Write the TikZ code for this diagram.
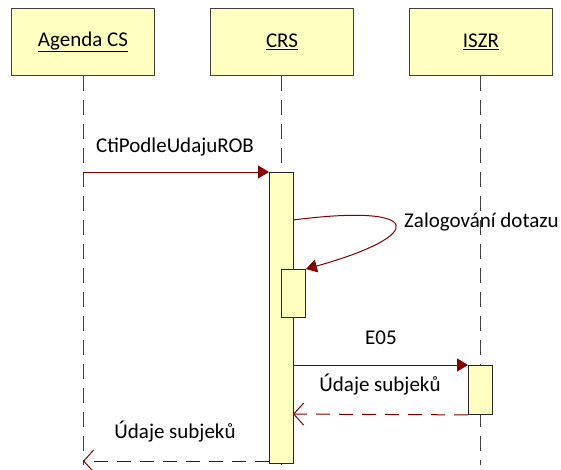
\documentclass[tikz,border=0pt]{standalone}
\usepackage{fontspec}
\setmainfont{Carlito}
\usetikzlibrary{arrows.meta}
\definecolor{boxfill}{HTML}{FFFFC0}
\definecolor{msgred}{HTML}{800000}
\definecolor{edgegray}{HTML}{404040}
\tikzset{
  x=1pt,y=-1pt,
  every node/.style={font=\fontsize{21}{25}\selectfont, inner sep=0pt, text=black},
  objbox/.style={draw=edgegray, fill=boxfill, line width=1pt, minimum width=143pt, minimum height=67pt},
  actbar/.style={draw=black!85, fill=boxfill, line width=0.9pt},
  lifeline/.style={draw=black!75, line width=1pt, dash pattern=on 15pt off 9pt},
  callmsg/.style={draw=msgred, line width=1pt, -{Triangle[length=11pt,width=13pt]}},
  retmsg/.style={draw=msgred, line width=1pt, dash pattern=on 14pt off 9pt, -{Straight Barb[length=10pt,width=22pt]}},
  lbl/.style={anchor=base}
}
\begin{document}
\begin{tikzpicture}
\useasboundingbox (0,0) rectangle (561,469);
% object boxes
\node[objbox] (agenda) at (83,42) {\underline{Agenda CS}};
\node[objbox] (crs) at (282,42) {\underline{CRS}};
\node[objbox] (iszr) at (481,42) {\underline{ISZR}};
% lifeline ends
\coordinate (agendaEnd) at (83,465);
\coordinate (crsEnd) at (281,465);
\coordinate (iszrEnd) at (480,465);
\draw[lifeline] (83,76) -- (agendaEnd);
\draw[lifeline] (281,76) -- (crsEnd);
\draw[lifeline] (480,76) -- (iszrEnd);
% activation bars
\node[actbar, minimum width=24pt, minimum height=291pt, anchor=north west] (crsAct) at (269,172) {};
\node[actbar, minimum width=24pt, minimum height=48pt, anchor=north west] (selfAct) at (281,269) {};
\node[actbar, minimum width=24pt, minimum height=49pt, anchor=north west] (iszrAct) at (468,365) {};
% messages
\coordinate (m1start) at (83,172);
\draw[callmsg] (m1start) -- (crsAct.north west);
\node[lbl] (l1) at (175,152) {CtiPodleUdajuROB};

\coordinate (selfStart) at (293,220);
\draw[callmsg] (selfStart) .. controls (425,203) and (428,235) .. (selfAct.north east);
\node[anchor=base west] (l2) at (404,227) {Zalogování dotazu};

\coordinate (m3start) at (293,365);
\draw[callmsg] (m3start) -- (iszrAct.north west);
\node[lbl] (l3) at (381,344) {E05};

\coordinate (m4end) at (293,414);
\draw[retmsg] (iszrAct.south west) -- (m4end);
\node[lbl] (l4) at (380,391) {Údaje subjeků};

\coordinate (m5end) at (83,461);
\draw[retmsg] (269,461) -- (m5end);
\node[lbl] (l5) at (175,438) {Údaje subjeků};
\end{tikzpicture}
\end{document}
